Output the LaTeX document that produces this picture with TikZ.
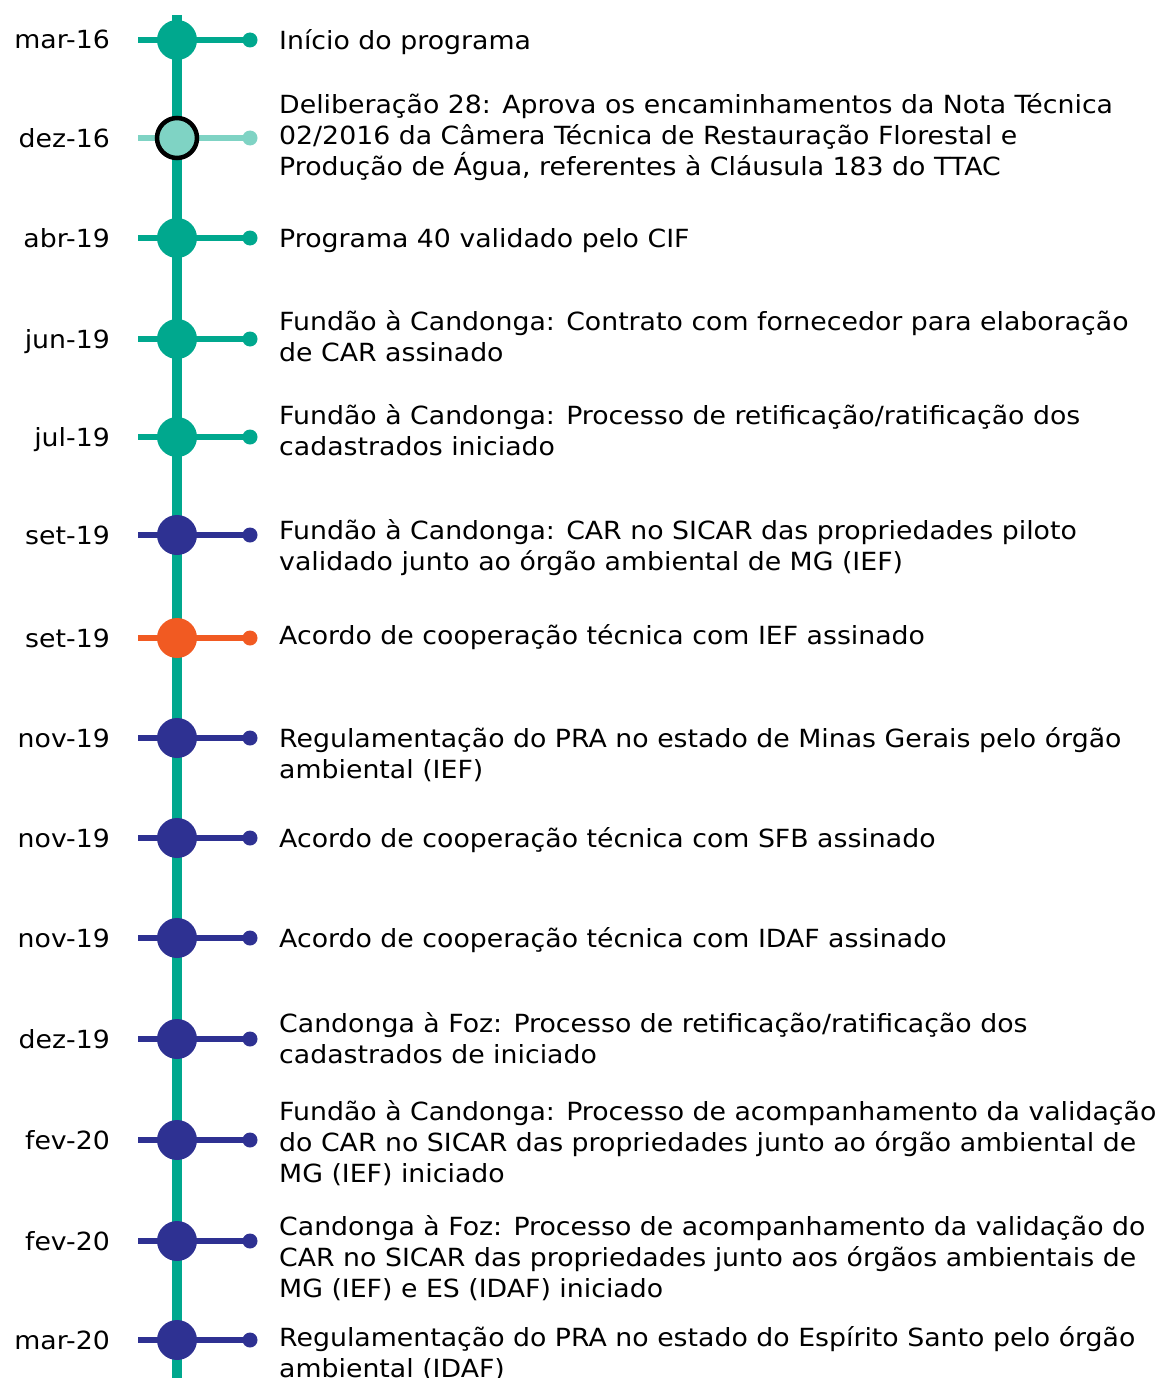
\documentclass[tikz,border=0pt]{standalone}
\usepackage{fontspec}
\setmainfont[FakeStretch=1.07]{DejaVu Sans}
\usetikzlibrary{backgrounds}
\definecolor{tealA}{RGB}{0,168,142}
\definecolor{tealL}{RGB}{127,211,196}
\definecolor{navyA}{RGB}{46,49,146}
\definecolor{orngA}{RGB}{241,90,34}
\newcommand\evrow[6]{%
  \node[bigdot=#3] (b#1) at (177,#2) {};
  \node[smalldot=#3] (s#1) at (250,#2) {};
  \coordinate (l#1) at (138,#2);
  \node[datelbl] (d#1) at (110,{#2+9}) {#4};
  \node[evtxt] (t#1) at (279,{#5-21.7}) {\strut #6};
  \begin{pgfonlayer}{background}\draw[conn=#3] (l#1) -- (s#1.center);\end{pgfonlayer}%
}
\begin{document}
\begin{tikzpicture}[x=1pt,y=-1pt,
  bigdot/.style={circle,fill=#1,minimum size=40pt,inner sep=0pt},
  smalldot/.style={circle,fill=#1,minimum size=15pt,inner sep=0pt},
  conn/.style={draw=#1,line width=5.5pt},
  datelbl/.style={anchor=base east,inner sep=0pt,font=\fontsize{25}{31}\selectfont},
  evtxt/.style={anchor=north west,inner sep=0pt,align=left,font=\fontsize{25}{31}\selectfont},
  spine/.style={draw=tealA,line width=10pt}]
\useasboundingbox (0,0) rectangle (1157,1378);
\clip (0,0) rectangle (1157,1378);
\coordinate (top) at (177,15);
\coordinate (bot) at (177,1400);
\begin{pgfonlayer}{background}\draw[spine] (top) -- (bot);\end{pgfonlayer}
\evrow{1}{40}{tealA}{mar-16}{49}{Início do programa}
% dez-16 special
\node[circle,fill=tealL,draw=black,line width=4.5pt,minimum size=40pt,inner sep=0pt] (b2) at (177,138) {};
\node[smalldot=tealL] (s2) at (250,138) {};
\coordinate (l2) at (138,138);
\node[datelbl] (d2) at (110,147) {dez-16};
\node[evtxt] (t2) at (279,{113-21.7}) {\strut Deliberação 28: Aprova os encaminhamentos da Nota Técnica\\02/2016 da Câmera Técnica de Restauração Florestal e\\Produção de Água, referentes à Cláusula 183 do TTAC};
\begin{pgfonlayer}{background}\draw[conn=tealL] (l2) -- (s2.center);\end{pgfonlayer}
\evrow{3}{238}{tealA}{abr-19}{247}{Programa 40 validado pelo CIF}
\evrow{4}{339}{tealA}{jun-19}{330}{Fundão à Candonga: Contrato com fornecedor para elaboração\\de CAR assinado}
\evrow{5}{437}{tealA}{jul-19}{424}{Fundão à Candonga: Processo de retificação/ratificação dos\\cadastrados iniciado}
\evrow{6}{535}{navyA}{set-19}{539}{Fundão à Candonga: CAR no SICAR das propriedades piloto\\validado junto ao órgão ambiental de MG (IEF)}
\evrow{7}{638}{orngA}{set-19}{644}{Acordo de cooperação técnica com IEF assinado}
\evrow{8}{738}{navyA}{nov-19}{747}{Regulamentação do PRA no estado de Minas Gerais pelo órgão\\ambiental (IEF)}
\evrow{9}{838}{navyA}{nov-19}{847}{Acordo de cooperação técnica com SFB assinado}
\evrow{10}{938}{navyA}{nov-19}{947}{Acordo de cooperação técnica com IDAF assinado}
\evrow{11}{1039}{navyA}{dez-19}{1032}{Candonga à Foz: Processo de retificação/ratificação dos\\cadastrados de iniciado}
\evrow{12}{1140}{navyA}{fev-20}{1120}{Fundão à Candonga: Processo de acompanhamento da validação\\do CAR no SICAR das propriedades junto ao órgão ambiental de\\MG (IEF) iniciado}
\evrow{13}{1241}{navyA}{fev-20}{1235}{Candonga à Foz: Processo de acompanhamento da validação do\\CAR no SICAR das propriedades junto aos órgãos ambientais de\\MG (IEF) e ES (IDAF) iniciado}
\evrow{14}{1340}{navyA}{mar-20}{1346}{Regulamentação do PRA no estado do Espírito Santo pelo órgão\\ambiental (IDAF)}
\end{tikzpicture}
\end{document}
